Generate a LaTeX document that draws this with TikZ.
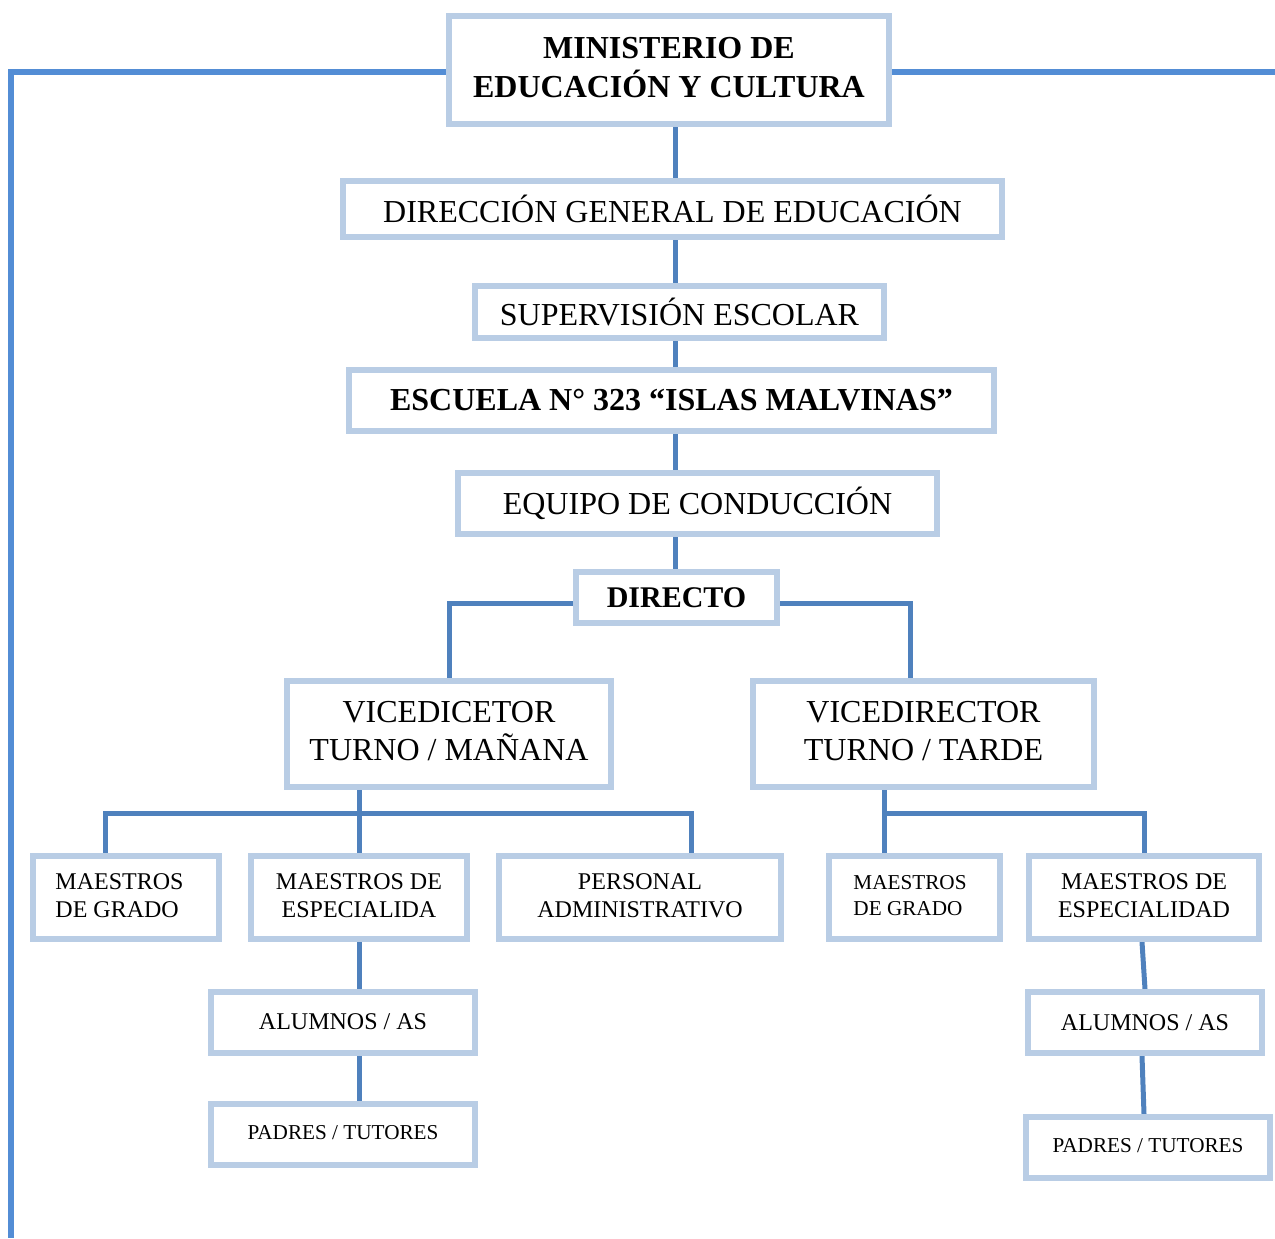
\documentclass[tikz,border=0pt]{standalone}
\usepackage{fontspec}
\setmainfont{Liberation Serif}
\usepackage{tikz}
\usetikzlibrary{backgrounds}
\definecolor{orgborde}{RGB}{185,205,229}
\definecolor{orglinea}{RGB}{79,129,189}
\definecolor{orgmarco}{RGB}{83,141,213}
\tikzstyle{caja} = [rectangle, draw=orgborde, line width=3pt, fill=white, text centered, inner sep=0pt]
\tikzstyle{conector} = [line width=2.5pt, color=orglinea]
\tikzstyle{marco} = [line width=3pt, color=orgmarco]
\newcommand{\letragrande}{\fontsize{16}{19}\selectfont}
\newcommand{\letrachica}{\fontsize{12}{14}\selectfont}
\newcommand{\letramini}{\fontsize{10.6}{13}\selectfont}

\begin{document}
\begin{tikzpicture}[x=0.5pt, y=-0.5pt]
\useasboundingbox (0,0) rectangle (1275,1238);
% Upper levels
\node (minist) [caja, minimum width=220pt, minimum height=54pt, font=\letragrande\bfseries] at (669,70) {
\begin{tabular}{c}
MINISTERIO DE\\
EDUCACIÓN Y CULTURA
\end{tabular}
};
\node (direcc) [caja, minimum width=329.5pt, minimum height=28pt, font=\letragrande] at (672.5,209) {DIRECCIÓN GENERAL DE EDUCACIÓN};
\node (superv) [caja, minimum width=204.5pt, minimum height=26pt, font=\letragrande] at (679.5,312) {\raisebox{-1pt}{SUPERVISIÓN ESCOLAR}};
\node (escuela) [caja, minimum width=322.5pt, minimum height=30.5pt, font=\letragrande\bfseries] at (671.5,400.5) {\raisebox{-1pt}{ESCUELA N° 323 “ISLAS MALVINAS”}};
\node (equipo) [caja, minimum width=239.5pt, minimum height=30.5pt, font=\letragrande] at (697.5,503.5) {EQUIPO DE CONDUCCIÓN};
\node (directo) [caja, minimum width=100.5pt, minimum height=25.5pt, font=\fontsize{15}{18}\selectfont\bfseries] at (676.5,597.5) {\raisebox{-2.5pt}{DIRECTO}};

% Vicedirectores
\node (vicem) [caja, minimum width=162pt, minimum height=53pt, font=\letragrande] at (449,734) {
\begin{tabular}{c}
VICEDICETOR\\
TURNO / MAÑANA
\end{tabular}
};
\node (vicet) [caja, minimum width=170.5pt, minimum height=53pt, font=\letragrande] at (923.5,734) {
\begin{tabular}{c}
VICEDIRECTOR\\
TURNO / TARDE
\end{tabular}
};

% Turno mañana
\node (gradom) [caja, minimum width=93pt, minimum height=41.5pt, font=\letrachica] at (126,897.5) {\hspace*{-6.5pt}%
\begin{tabular}{l}
MAESTROS\\
DE GRADO
\end{tabular}
};
\node (especm) [caja, minimum width=108pt, minimum height=41.5pt, font=\letrachica] at (359,897.5) {
\begin{tabular}{c}
MAESTROS DE\\
ESPECIALIDA
\end{tabular}
};
\node (admin) [caja, minimum width=141pt, minimum height=41.5pt, font=\letrachica] at (640,897.5) {
\begin{tabular}{c}
PERSONAL\\
ADMINISTRATIVO
\end{tabular}
};
\node (alumm) [caja, minimum width=132pt, minimum height=30.5pt, font=\letrachica] at (343,1022.5) {\raisebox{1pt}{ALUMNOS / AS}};
\node (padrm) [caja, minimum width=132pt, minimum height=30.5pt, font=\letramini] at (343,1134.5) {\raisebox{2pt}{PADRES / TUTORES}};

% Turno tarde
\node (gradot) [caja, minimum width=85.5pt, minimum height=41.5pt, font=\letramini] at (914.5,897.5) {\hspace*{-4.5pt}%
\begin{tabular}{l}
MAESTROS\\
DE GRADO
\end{tabular}
};
\node (espect) [caja, minimum width=115pt, minimum height=41.5pt, font=\letrachica] at (1144,897.5) {
\begin{tabular}{c}
MAESTROS DE\\
ESPECIALIDAD
\end{tabular}
};
\node (alumt) [caja, minimum width=117pt, minimum height=30.5pt, font=\letrachica] at (1145,1022.5) {ALUMNOS / AS};
\node (padrt) [caja, minimum width=122pt, minimum height=30.5pt, font=\letramini] at (1148,1147.5) {\raisebox{2pt}{PADRES / TUTORES}};

% Connectors
\coordinate (eje) at (675,0);
\coordinate (bus) at (0,813);
\coordinate (fondo) at (11,1238);
\coordinate (borde) at (1275,72);
\begin{scope}[on background layer]
\draw[marco] ([yshift=-1pt]minist.west) -| (fondo);
\draw[marco] ([yshift=-1pt]minist.east) -- (borde);
\draw[conector] (minist.south -| eje) -- (direcc.north -| eje);
\draw[conector] (direcc.south -| eje) -- (superv.north -| eje);
\draw[conector] (superv.south -| eje) -- (escuela.north -| eje);
\draw[conector] (escuela.south -| eje) -- (equipo.north -| eje);
\draw[conector] (equipo.south -| eje) -- (directo.north -| eje);
\draw[conector] ([yshift=-2.75pt]directo.west) -| (vicem.north);
\draw[conector] ([yshift=-2.75pt]directo.east) -| ([xshift=-6.75pt]vicet.north);
% mañana
\draw[conector] (vicem.south -| especm.north) -- (especm.north);
\draw[conector] ([xshift=-10.5pt]gradom.north) |- (bus -| especm.north) -| ([xshift=25.5pt]admin.north);
\draw[conector] (especm.south) -- (especm.south |- alumm.north);
\draw[conector] (alumm.south -| especm.south) -- (padrm.north -| especm.south);
% tarde
\draw[conector] ([xshift=-15.25pt]gradot.north |- vicet.south) -- ([xshift=-15.25pt]gradot.north);
\draw[conector] ([xshift=-15.25pt]gradot.north |- bus) -| (espect.north);
\draw[conector] ([xshift=-1pt]espect.south) -- (alumt.north);
\draw[conector] ([xshift=-1.5pt]alumt.south) -- ([xshift=-2pt]padrt.north);
\end{scope}
\end{tikzpicture}
\end{document}
